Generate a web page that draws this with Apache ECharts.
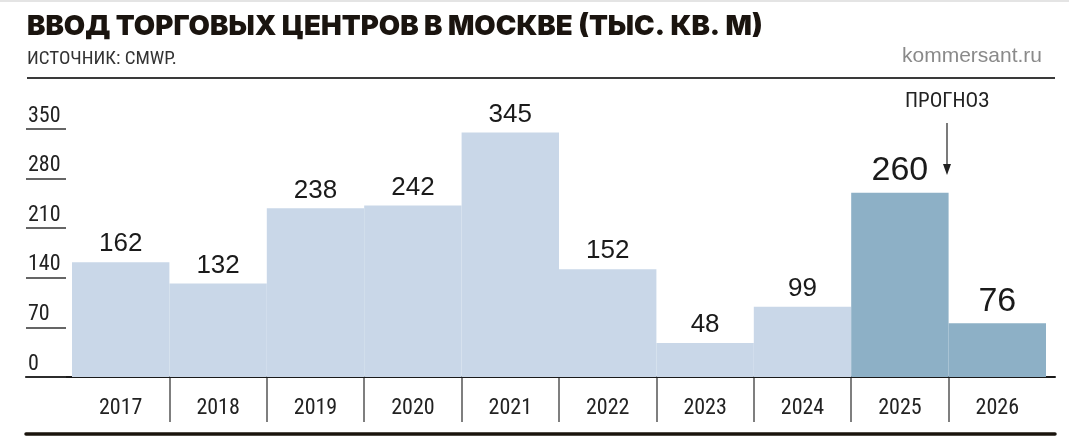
<!DOCTYPE html>
<html><head><meta charset="utf-8">
<script src="https://cdn.jsdelivr.net/npm/echarts@6/dist/echarts.min.js"></script>
<style>html,body{margin:0;padding:0;background:#fff}#c{width:1069px;height:436px}</style>
</head><body><div id="c"></div>
<script>
const years = ['2017','2018','2019','2020','2021','2022','2023','2024','2025','2026'];
const values = [162,132,238,242,345,152,48,99,260,76];
const forecastYears = ['2025','2026'];
const yMin = 0, yMax = 350, yStep = 70;

const NARROW = "'Liberation Sans Narrow','Arial Narrow','Roboto Condensed','Liberation Sans',sans-serif";
const SANS = "'Liberation Sans',Arial,sans-serif";
const LIGHT = '#c9d7e8', DARK = '#8db0c6';

const data = years.map((y, i) => {
  const fc = forecastYears.includes(y);
  return {
    value: values[i],
    itemStyle: { color: fc ? DARK : LIGHT },
    label: { fontSize: fc ? 34 : 26 }
  };
});

const chart = echarts.init(document.getElementById('c'), null, { renderer: 'canvas' });
chart.setOption({
  animation: false,
  backgroundColor: '#fff',
  grid: [
    { left: 72, right: 23, top: 129, bottom: 59 },
    { left: 26, right: 14, top: 129, bottom: 59 },
    { left: 72, right: 23, top: 377, height: 45 }
  ],
  xAxis: [
    { gridIndex: 0, type: 'category', data: years,
      axisLine: { show: false }, axisTick: { show: false },
      axisLabel: { margin: 20, fontSize: 22, color: '#222', fontFamily: NARROW } },
    { gridIndex: 1, type: 'value', min: 0, max: 1,
      axisLine: { show: true, lineStyle: { color: '#1a1a1a', width: 2 } },
      axisTick: { show: false }, axisLabel: { show: false }, splitLine: { show: false } },
    { gridIndex: 2, type: 'category', data: years,
      axisLine: { show: false }, axisTick: { show: false }, axisLabel: { show: false },
      splitLine: { show: true, showMinLine: false, showMaxLine: false, interval: 0,
        lineStyle: { color: '#555', width: 1.5 } } },
    { gridIndex: 1, type: 'value', min: 0, max: 1, position: 'bottom', offset: 57,
      axisLine: { show: true, lineStyle: { color: '#1a140d', width: 3.5 } },
      axisTick: { show: false }, axisLabel: { show: false }, splitLine: { show: false } }
  ],
  yAxis: [
    { gridIndex: 0, type: 'value', min: yMin, max: yMax, interval: yStep, show: false },
    { gridIndex: 1, type: 'value', min: yMin, max: yMax, interval: yStep,
      axisLine: { show: false },
      axisTick: { show: true, inside: true, length: 40, lineStyle: { color: '#333', width: 1.5 } },
      axisLabel: { inside: true, margin: 2, verticalAlign: 'bottom', padding: [0, 0, 2, 0],
        fontSize: 22, color: '#222', fontFamily: NARROW },
      splitLine: { show: false } },
    { gridIndex: 2, type: 'value', show: false }
  ],
  series: [{
    type: 'bar', xAxisIndex: 0, yAxisIndex: 0, data: data,
    barWidth: '100%', barGap: '0%',
    label: { show: true, position: 'top', distance: 5, color: '#1a1a1a', fontFamily: SANS },
    z: 1
  }],
  graphic: [
    { type: 'line', shape: { x1: 0, y1: 1, x2: 1069, y2: 1 }, style: { stroke: '#e4e4e4', lineWidth: 2 } },
    { type: 'text', style: { x: 27, y: 27, text: 'ВВОД ТОРГОВЫХ ЦЕНТРОВ В МОСКВЕ (ТЫС. КВ. М)',
        font: "900 27.6px Inter, 'Noto Sans', sans-serif", fill: '#1a140f', textVerticalAlign: 'middle' } },
    { type: 'text', style: { x: 27, y: 59, text: 'ИСТОЧНИК: CMWP.',
        font: "19px " + NARROW, fill: '#333', textVerticalAlign: 'middle' } },
    { type: 'text', style: { x: 1042, y: 56, text: 'kommersant.ru', textAlign: 'right',
        font: "21px " + SANS, fill: '#8a8a8a', textVerticalAlign: 'middle' } },
    { type: 'line', shape: { x1: 27, y1: 78, x2: 1055, y2: 78 }, style: { stroke: '#3a3a3a', lineWidth: 2 } },
    { type: 'text', style: { x: 947, y: 102, text: 'ПРОГНОЗ', textAlign: 'center',
        font: "21px " + NARROW, fill: '#222', textVerticalAlign: 'middle' } },
    { type: 'line', shape: { x1: 947, y1: 123, x2: 947, y2: 166 }, style: { stroke: '#222', lineWidth: 1.2 } },
    { type: 'polygon', shape: { points: [[943, 164], [951, 164], [947, 175]] }, style: { fill: '#222' } }
  ]
});
</script>
</body></html>
